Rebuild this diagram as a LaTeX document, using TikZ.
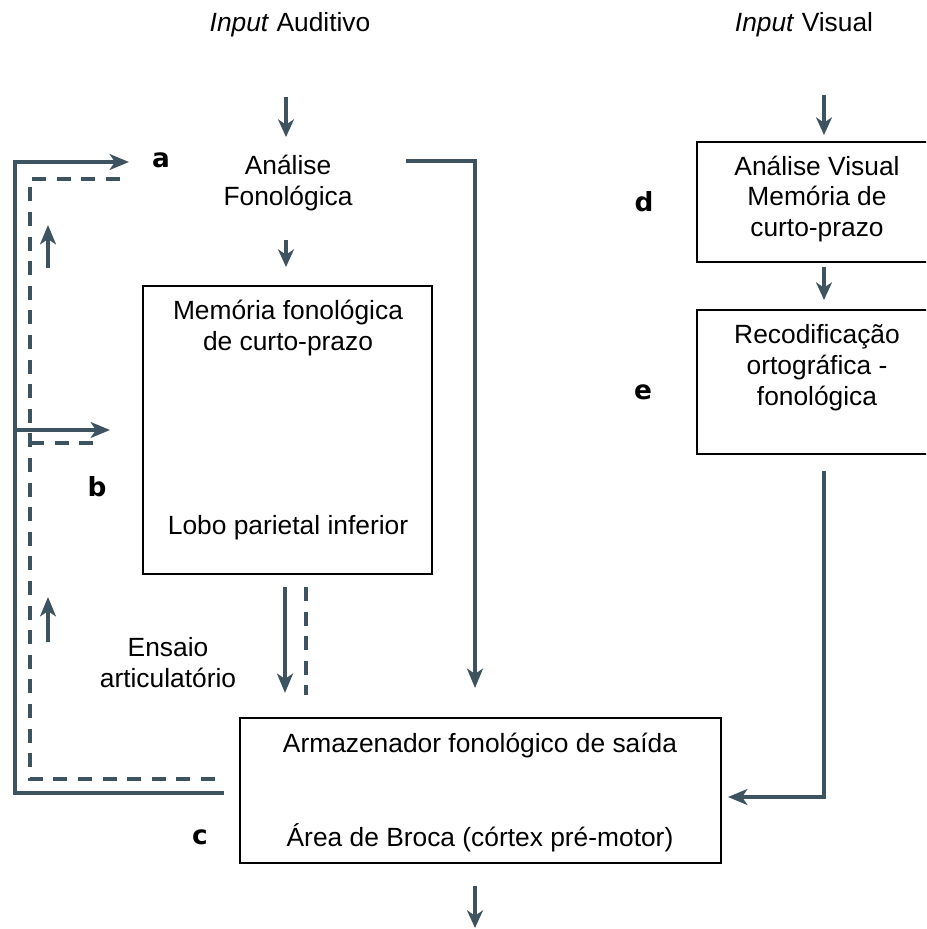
\documentclass[tikz,border=0pt]{standalone}
\usepackage{fontspec}
\setmainfont{Liberation Sans}
\newfontfamily\tagfont{DejaVu Sans}
\usetikzlibrary{arrows.meta,positioning}

\definecolor{flowgray}{RGB}{62,83,96}

\begin{document}
\begin{tikzpicture}[
			x=0.02cm,
			y=-0.02cm,
			line join=miter,
			txt/.style={align=center,inner sep=0pt,font=\fontsize{15pt}{17.6pt}\selectfont},
			stage/.style={draw=black,line width=1.1pt,inner sep=0pt},
			tag/.style={inner sep=0pt,font=\tagfont\bfseries\fontsize{15pt}{15pt}\selectfont},
			flow/.style={draw=flowgray,line width=2.7pt,-{Stealth[length=11pt,width=9pt,inset=3pt]}},
			thinflow/.style={draw=flowgray,line width=1.8pt,-{Stealth[length=10pt,width=9pt,inset=3pt]}},
			rehearse/.style={draw=flowgray,line width=2.7pt,dash pattern=on 8pt off 6pt}
			]
			
			\path[use as bounding box] (0,0) rectangle (926,929);
			\clip (0,0) rectangle (926,929);
			
			% Auditory side
			\node[txt] (inA) at (290,25) {\textit{Input} Auditivo};
			\node[txt] (fon) at (288,183) {Análise\\Fonológica};
			\node[stage,minimum width=5.78cm,minimum height=5.76cm] (mem) at (287.5,430) {};
			\node[txt] (memT) at (288,328) {Memória fonológica\\de curto-prazo};
			\node[txt] (memB) at (288,528) {Lobo parietal inferior};
			\node[txt] (ens) at (168,663) {Ensaio\\articulatório};
			
			% Output store
			\node[stage,minimum width=9.62cm,minimum height=2.9cm] (out) at (480.5,790.5) {};
			\node[txt] (outT) at (480,746) {Armazenador fonológico de saída};
			\node[txt] (outB) at (480,838) {Área de Broca (córtex pré-motor)};
			
			% Visual side
			\node[txt] (inV) at (804,25) {\textit{Input} Visual};
			\node[stage,minimum width=4.8cm,minimum height=2.4cm] (vis) at (817,202) {};
			\node[txt] (visT) at (817,199) {Análise Visual\\Memória de\\curto-prazo};
			\node[stage,minimum width=4.82cm,minimum height=2.88cm] (rec) at (817,382) {};
			\node[txt] (recT) at (817,368) {Recodificação\\ortográfica -\\fonológica};
			
			% Letters
			\node[tag] (tagA) at (161,160) {a};
			\node[tag] (tagB) at (97,487) {b};
			\node[tag] (tagC) at (200,837) {c};
			\node[tag] (tagD) at (644,202) {d};
			\node[tag] (tagE) at (643,392) {e};
			
			% Ends of the connectors
			\coordinate (inAout) at (286,97);
			\coordinate (fonIn) at (286,137);
			\coordinate (fonOut) at (286,240);
			\coordinate (memIn) at (286,267);
			\coordinate (inVout) at (824,95);
			\coordinate (visIn) at (824,135);
			\coordinate (visOut) at (824,267);
			\coordinate (recIn) at (824,300);
			\coordinate (recOut) at (824,471);
			\coordinate (outR) at (728,797);
			\coordinate (fonR) at (406,161);
			\coordinate (outTop) at (475,688);
			\coordinate (memS) at (285,587);
			\coordinate (outN) at (285,693);
			\coordinate (memSd) at (306,587);
			\coordinate (outNd) at (306,695);
			\coordinate (outS) at (475,886);
			\coordinate (speech) at (475,928);
			\coordinate (loopS) at (224,793);
			\coordinate (loopL) at (15,793);
			\coordinate (aIn) at (129,162);
			\coordinate (bIn) at (110,430);
			\coordinate (dashS) at (215,779);
			\coordinate (dashL) at (30,779);
			\coordinate (aDash) at (124,179);
			\coordinate (bDash) at (103,443);
			
			% Short arrows
			\draw[thinflow] (inAout) -- (fonIn);
			\draw[thinflow] (fonOut) -- (memIn);
			\draw[thinflow] (inVout) -- (visIn);
			\draw[thinflow] (visOut) -- (recIn);
			\draw[thinflow] (outS) -- (speech);
			
			% Long routes
			\draw[flow] (recOut) |- (outR);
			\draw[flow] (fonR) -| (outTop);
			\draw[flow] (memS) -- (outN);
			\draw[rehearse] (memSd) -- (outNd);
			
			% Loop back to a and b
			\draw[flow] (loopS) -- (loopL) |- (aIn);
			\draw[flow] (loopL |- bIn) -- (bIn);
			\draw[rehearse] (dashS) -- (dashL) |- (aDash);
			\draw[rehearse] (dashL |- bDash) -- (bDash);
			\draw[flow] (48,268) -- (48,225);
			\draw[flow] (48,642) -- (48,597);
			
		\end{tikzpicture}
\end{document}
